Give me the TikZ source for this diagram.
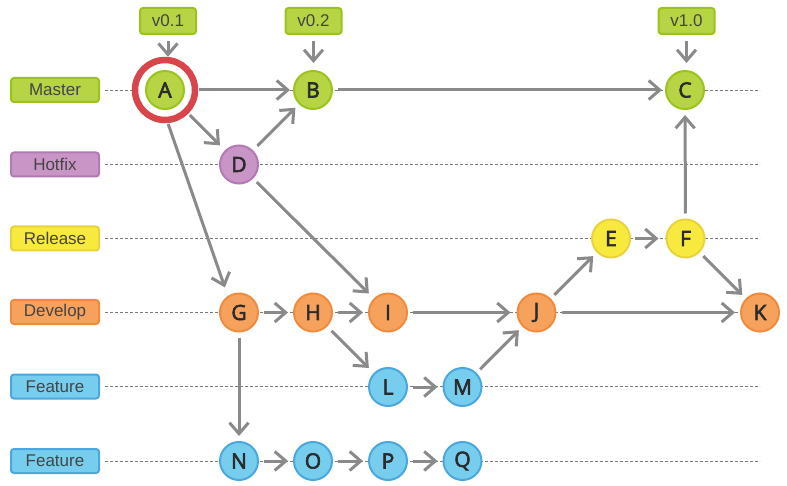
\documentclass[tikz,border=0pt]{standalone}
\usepackage{fontspec}
\setmainfont{Liberation Sans}
\newfontfamily\letterfont[FakeBold=3]{Open Sans}
\usetikzlibrary{arrows.meta}

\definecolor{masterfill}{HTML}{B6D444}
\definecolor{masterline}{HTML}{9BC31C}
\definecolor{hotfixfill}{HTML}{C995C7}
\definecolor{hotfixline}{HTML}{B27AB2}
\definecolor{releasefill}{HTML}{F8E93F}
\definecolor{releaseline}{HTML}{E9D33C}
\definecolor{developfill}{HTML}{F6A25D}
\definecolor{developline}{HTML}{F08B3D}
\definecolor{featurefill}{HTML}{77CDEE}
\definecolor{featureline}{HTML}{4AA8DF}
\definecolor{arrowgray}{HTML}{8A8A8A}
\definecolor{lanegray}{HTML}{7A7A7A}
\definecolor{ringred}{HTML}{D8454A}
\definecolor{labeltext}{HTML}{454545}
\definecolor{lettertext}{HTML}{2B2B2B}

\tikzset{
  lanelabel/.style={rectangle, rounded corners=3pt, minimum width=88pt, minimum height=24pt,
    line width=2pt, inner sep=0pt, text=labeltext, font=\fontsize{17}{20}\selectfont},
  tagbox/.style={lanelabel, minimum width=56pt, minimum height=26pt,
    fill=masterfill, draw=masterline},
  commit/.style={circle, minimum size=38pt, line width=2pt, inner sep=0pt, text=lettertext,
    font=\letterfont\fontsize{21}{24}\selectfont},
  master/.style={fill=masterfill, draw=masterline},
  hotfix/.style={fill=hotfixfill, draw=hotfixline},
  release/.style={fill=releasefill, draw=releaseline},
  develop/.style={fill=developfill, draw=developline},
  feature/.style={fill=featurefill, draw=featureline},
  laneline/.style={draw=lanegray, line width=0.8pt, dash pattern=on 3pt off 2pt},
  flow/.style={draw=arrowgray, line width=3pt, -{Straight Barb[length=11pt,width=19pt]},
    shorten <=5pt, shorten >=5pt},
}

\begin{document}
\begin{tikzpicture}[x=1pt,y=-1pt]
\useasboundingbox (0,0) rectangle (787,486);

% branch labels
\node[lanelabel, master]  (lmaster)  at (55,90)    {Master};
\node[lanelabel, hotfix]  (lhotfix)  at (55,164.5) {Hotfix};
\node[lanelabel, release] (lrelease) at (55,238.5) {Release};
\node[lanelabel, develop] (ldevelop) at (55,312)   {Develop};
\node[lanelabel, feature] (lfeatA)   at (55,386.5) {Feature};
\node[lanelabel, feature] (lfeatB)   at (55,461)   {Feature};

% dashed branch lanes
\coordinate (emaster)  at (760,90);
\coordinate (ehotfix)  at (760,164.5);
\coordinate (erelease) at (760,238.5);
\coordinate (edevelop) at (760,312);
\coordinate (efeatA)   at (760,386.5);
\coordinate (efeatB)   at (760,461);
\draw[laneline] ([xshift=5pt]lmaster.east)  -- (emaster);
\draw[laneline] ([xshift=5pt]lhotfix.east)  -- (ehotfix);
\draw[laneline] ([xshift=5pt]lrelease.east) -- (erelease);
\draw[laneline] ([xshift=5pt]ldevelop.east) -- (edevelop);
\draw[laneline] ([xshift=5pt]lfeatA.east)   -- (efeatA);
\draw[laneline] ([xshift=5pt]lfeatB.east)   -- (efeatB);

% version tags
\node[tagbox] (t1) at (168,21)   {v0.1};
\node[tagbox] (t2) at (313.5,21) {v0.2};
\node[tagbox] (t3) at (686.5,21) {v1.0};

% highlight ring around the first commit
\node[circle, draw=ringred, fill=white, line width=6.5pt, minimum size=60pt, inner sep=0pt]
  (ring) at (165,90) {};

% commits
\node[commit, master]  (A) at (165,90)    {A};
\node[commit, master]  (B) at (313,90)    {B};
\node[commit, master]  (C) at (685,90)    {C};
\node[commit, hotfix]  (D) at (239,164.5) {D};
\node[commit, release] (E) at (611,238.5) {E};
\node[commit, release] (F) at (685.5,238.5) {F};
\node[commit, develop] (G) at (239,312.5) {G};
\node[commit, develop] (H) at (313,312.5) {H};
\node[commit, develop] (I) at (388,312.5) {I};
\node[commit, develop] (J) at (536.5,312.5) {J};
\node[commit, develop] (K) at (760,312.5) {K};
\node[commit, feature] (L) at (388,387)   {L};
\node[commit, feature] (M) at (462.5,387) {M};
\node[commit, feature] (N) at (239,461)   {N};
\node[commit, feature] (O) at (313,461)   {O};
\node[commit, feature] (P) at (388,461)   {P};
\node[commit, feature] (Q) at (462.5,461) {Q};

% tag pointers
\draw[flow, shorten <=6pt, shorten >=0pt] (t1) -- (t1 |- ring.north);
\draw[flow, shorten <=6pt, shorten >=7pt] (t2) -- (t2 |- B.north);
\draw[flow, shorten <=6pt, shorten >=7pt] (t3) -- (t3 |- C.north);

% history
\draw[flow, shorten <=1pt, shorten >=3pt] (ring) -- (B);
\draw[flow, shorten <=2pt, shorten >=7pt] (ring) -- (D);
\draw[flow, shorten <=1pt, shorten >=9pt] (ring.-85) -- (G.124);
\draw[flow, shorten <=6pt, shorten >=5pt] (D) -- (B);
\draw[flow, shorten <=5pt, shorten >=7pt] (D) -- (I);
\draw[flow, shorten >=3pt] (B) -- (C);
\draw[flow] (F) -- (C);
\draw[flow, shorten <=4pt, shorten >=7pt] (E) -- (F);
\draw[flow] (F) -- (K);
\draw[flow] (J) -- (E);
\draw[flow] (J) -- (K);
\draw[flow] (G) -- (H);
\draw[flow] (H) -- (I);
\draw[flow, shorten <=6pt, shorten >=7pt] (H) -- (L);
\draw[flow, shorten >=6pt] (I) -- (J);
\draw[flow] (L) -- (M);
\draw[flow] (M) -- (J);
\draw[flow] (G) -- (N);
\draw[flow] (N) -- (O);
\draw[flow] (O) -- (P);
\draw[flow] (P) -- (Q);
\end{tikzpicture}
\end{document}
